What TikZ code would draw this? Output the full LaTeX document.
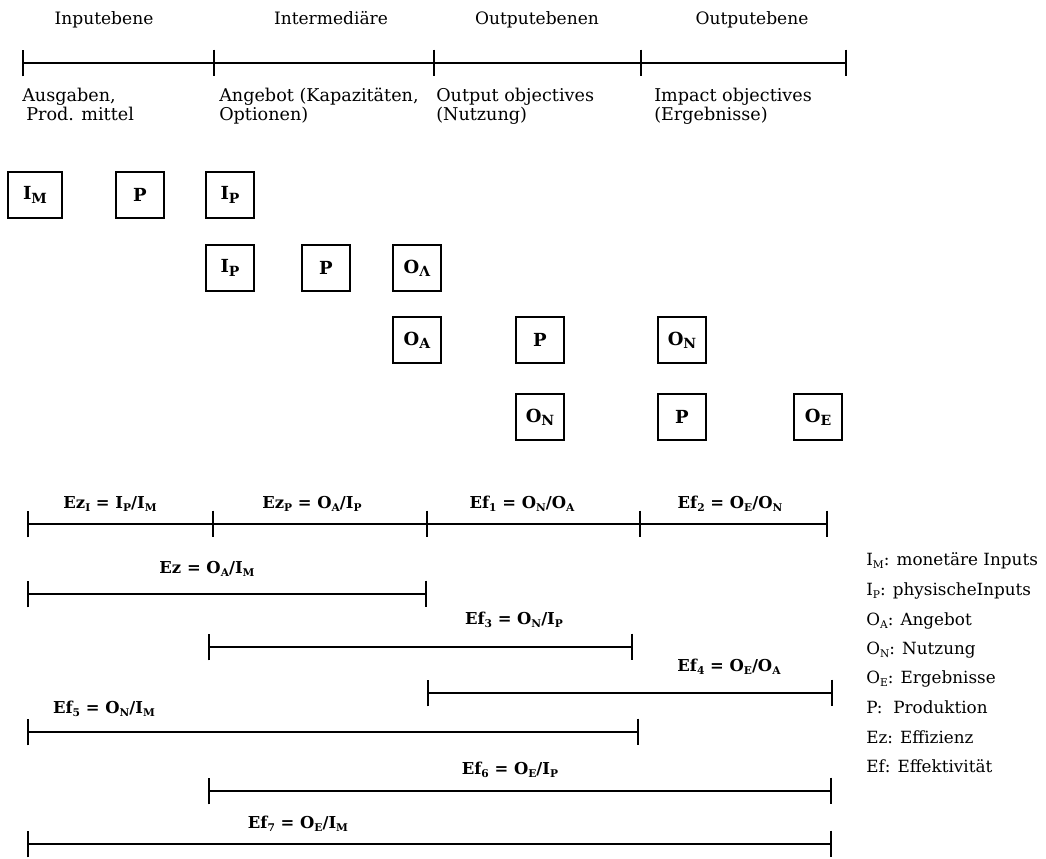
\documentclass[tikz,border=0pt]{standalone}
\usepackage{fontspec}
\setmainfont{DejaVu Serif}
\usetikzlibrary{arrows.meta}
\newcommand{\bsub}[1]{\raisebox{-0.35ex}{\fontsize{10.5}{10.5}\selectfont #1}}
\newcommand{\fsub}[1]{\raisebox{-0.45ex}{\fontsize{8}{8}\selectfont #1}}
\begin{document}
\begin{tikzpicture}[x=0.75pt,y=-0.75pt,
  ttl/.style={font=\fontsize{12.8}{14}\selectfont, inner sep=0pt, anchor=base},
  sublbl/.style={font=\fontsize{13.2}{12.8}\selectfont, align=left, anchor=north west, inner sep=0pt},
  fbox/.style={draw, line width=1.6pt, minimum width=36pt, minimum height=35pt, inner sep=0pt, font=\bfseries\fontsize{13.5}{15}\selectfont},
  formula/.style={font=\bfseries\fontsize{12.3}{13}\selectfont, inner sep=0pt, anchor=base},
  leg/.style={font=\fontsize{12.6}{13}\selectfont, anchor=base west, inner sep=0pt},
  bar/.style={line width=1.4pt, {Bar[width=20pt]}-{Bar[width=20pt]}},
  tick/.style={line width=1.4pt}
]
\useasboundingbox (0,0) rectangle (1046,858);

% ---------- top scale ----------
\coordinate (t0) at (22,63);
\coordinate (t1) at (214,63);
\coordinate (t2) at (434,63);
\coordinate (t3) at (641,63);
\coordinate (t4) at (847,63);
\draw[bar] (t0) -- (t4);
\foreach \c in {t1,t2,t3} \draw[tick] ([yshift=10pt]\c) -- ([yshift=-10pt]\c);

\node[ttl] (h1) at (104,24) {Inputebene};
\node[ttl] (h2) at (331,24) {Intermediäre};
\node[ttl] (h3) at (537,24) {Outputebenen};
\node[ttl] (h4) at (752,24) {Outputebene};

\node[sublbl] (s1) at (22,88) {Ausgaben,\\\hspace{3pt}Prod. mittel};
\node[sublbl] (s2) at (219,88) {Angebot (Kapazitäten,\\Optionen)};
\node[sublbl] (s3) at (436,88) {Output objectives\\(Nutzung)};
\node[sublbl] (s4) at (654,88) {Impact objectives\\(Ergebnisse)};

% ---------- boxes ----------
\node[fbox, minimum width=40pt] (b11) at (35,195) {I\bsub{M}};
\node[fbox] (b12) at (140,195) {P};
\node[fbox] (b13) at (230,195) {I\bsub{P}};

\node[fbox] (b21) at (230,268) {I\bsub{P}};
\node[fbox] (b22) at (326,268) {P};
\node[fbox] (b23) at (417,268) {O\bsub{Λ}};

\node[fbox] (b31) at (417,340) {O\bsub{A}};
\node[fbox] (b32) at (540,340) {P};
\node[fbox] (b33) at (682,340) {O\bsub{N}};

\node[fbox] (b41) at (540,417) {O\bsub{N}};
\node[fbox] (b42) at (682,417) {P};
\node[fbox] (b43) at (818,417) {O\bsub{E}};

% ---------- ratio bars ----------
\coordinate (r0) at (27,524);
\coordinate (r1) at (213,524);
\coordinate (r2) at (427,524);
\coordinate (r3) at (640,524);
\coordinate (r4) at (828,524);
\draw[bar] (r0) -- (r4);
\foreach \c in {r1,r2,r3} \draw[tick] ([yshift=10pt]\c) -- ([yshift=-10pt]\c);
\node[formula] (f1) at (110,508) {Ez\fsub{I} = I\fsub{P}/I\fsub{M}};
\node[formula] (f2) at (312,508) {Ez\fsub{P} = O\fsub{A}/I\fsub{P}};
\node[formula] (f3) at (522,508) {Ef\fsub{1} = O\fsub{N}/O\fsub{A}};
\node[formula] (f4) at (730,508) {Ef\fsub{2} = O\fsub{E}/O\fsub{N}};

\coordinate (ez0) at (27,594);
\coordinate (ez1) at (427,594);
\draw[bar] (ez0) -- (ez1);
\node[formula] (fez) at (207,573) {Ez = O\fsub{A}/I\fsub{M}};

\coordinate (e30) at (208,647);
\coordinate (e31) at (633,647);
\draw[bar] (e30) -- (e31);
\node[formula] (fe3) at (514,624) {Ef\fsub{3} = O\fsub{N}/I\fsub{P}};

\coordinate (e40) at (427,693);
\coordinate (e41) at (833,693);
\draw[bar] (e40) -- (e41);
\node[formula] (fe4) at (729,671) {Ef\fsub{4} = O\fsub{E}/O\fsub{A}};

\coordinate (e50) at (27,732);
\coordinate (e51) at (639,732);
\draw[bar] (e50) -- (e51);
\node[formula] (fe5) at (104,713) {Ef\fsub{5} = O\fsub{N}/I\fsub{M}};

\coordinate (e60) at (208,791);
\coordinate (e61) at (832,791);
\draw[bar] (e60) -- (e61);
\node[formula] (fe6) at (510,774) {Ef\fsub{6} = O\fsub{E}/I\fsub{P}};

\coordinate (e70) at (27,844);
\coordinate (e71) at (832,844);
\draw[bar] (e70) -- (e71);
\node[formula] (fe7) at (298,828) {Ef\fsub{7} = O\fsub{E}/I\fsub{M}};

% ---------- legend ----------
\node[leg] (l1) at (866,565) {I\fsub{M}: monetäre Inputs};
\node[leg] (l2) at (866,595) {I\fsub{P}: physischeInputs};
\node[leg] (l3) at (866,625) {O\fsub{A}: Angebot};
\node[leg] (l4) at (866,654) {O\fsub{N}: Nutzung};
\node[leg] (l5) at (866,683) {O\fsub{E}: Ergebnisse};
\node[leg] (l6) at (866,713) {P:\ \ Produktion};
\node[leg] (l7) at (866,743) {Ez: Effizienz};
\node[leg] (l8) at (866,772) {Ef: Effektivität};
\end{tikzpicture}
\end{document}
